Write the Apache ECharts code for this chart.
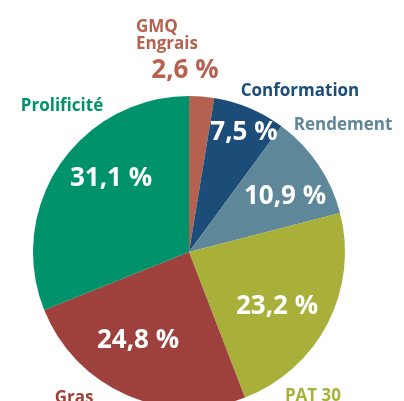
<!DOCTYPE html>
<html><head><meta charset="utf-8">
<script src="https://cdn.jsdelivr.net/npm/echarts@6/dist/echarts.min.js"></script>
<style>html,body{margin:0;padding:0;background:#fff}#c{width:404px;height:401px}</style>
</head><body><div id="c"></div>
<script>
// data
var categories = ['GMQ Engrais', 'Conformation', 'Rendement', 'PAT 30', 'Gras', 'Prolificité'];
var values = [2.6, 7.5, 10.9, 23.2, 24.8, 31.1];
var colors = ['#b5614f', '#1b4d78', '#5e8799', '#a9b03a', '#9e413c', '#00936b'];
// label layout (text positions, not marks)
var pctPos = [[185, 71], [244, 133], [285, 197], [277, 307], [138, 341], [111, 179]];
var namePos = [[136, 19], [300, 91], [343, 125], [313, 396], [74, 398], [62, 106]];

function fmt(v){ return v.toFixed(1).replace('.', ',') + ' %'; }

var graphic = [];
values.forEach(function(v, i){
  graphic.push({
    type: 'text', x: pctPos[i][0], y: pctPos[i][1], z: 10,
    style: { text: fmt(v), fill: i === 0 ? colors[0] : '#ffffff',
      font: 'bold 26px "Open Sans"', textAlign: 'center', textVerticalAlign: 'middle' }
  });
});
categories.forEach(function(c, i){
  var t = c, align = 'center';
  if (i === 0) { t = 'GMQ\nEngrais'; align = 'left'; }
  graphic.push({
    type: 'text', x: namePos[i][0], y: namePos[i][1], z: 10,
    style: { text: t, fill: colors[i], font: 'bold 17px "Open Sans"',
      textAlign: align, textVerticalAlign: i === 0 ? 'top' : 'middle', lineHeight: 17 }
  });
});

var chart = echarts.init(document.getElementById('c'), null, {renderer: 'canvas'});
chart.setOption({
  animation: false,
  backgroundColor: '#ffffff',
  graphic: graphic,
  series: [{
    type: 'pie',
    center: [189, 252],
    radius: 156,
    startAngle: 90,
    clockwise: true,
    label: { show: false },
    labelLine: { show: false },
    itemStyle: { borderWidth: 0 },
    emphasis: { disabled: true },
    data: categories.map(function(c, i){
      return { name: c, value: values[i], itemStyle: { color: colors[i] } };
    })
  }]
});
</script></body></html>
